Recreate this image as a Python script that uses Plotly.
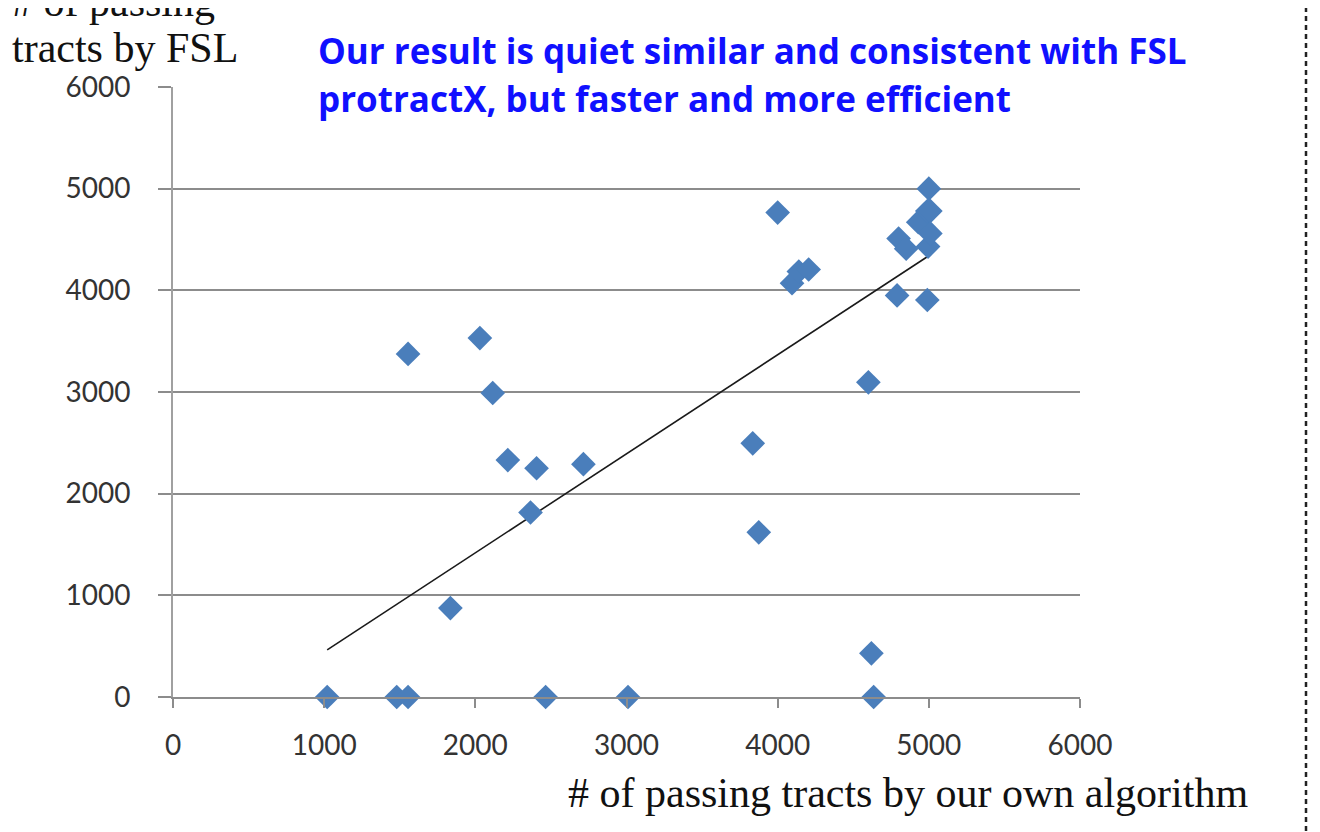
import plotly.graph_objects as go

# Data
ours = [1020, 1480, 1555, 2465, 3010, 4635, 4620, 1555, 2030, 2115, 2215, 2405,
        2365, 2715, 1835, 3835, 3875, 4000, 4095, 4140, 4205, 4600, 4790, 4990,
        5000, 4800, 4850, 4930, 4990, 5010, 4995, 5010]
fsl = [0, 0, 0, 0, 0, 0, 430, 3375, 3530, 2990, 2330, 2250,
       1815, 2290, 875, 2495, 1620, 4765, 4070, 4185, 4205, 3095, 3950, 3905,
       5000, 4510, 4410, 4670, 4780, 4780, 4430, 4560]
x_ticks = [0, 1000, 2000, 3000, 4000, 5000, 6000]
y_ticks = [0, 1000, 2000, 3000, 4000, 5000, 6000]
# trendline as drawn in the reference (linear: fsl = slope * ours + intercept)
trend_slope = 0.974
trend_intercept = -530

tx = [min(ours), max(ours)]
ty = [trend_slope * v + trend_intercept for v in tx]

OFF = 8  # page body margin
L, R, T, B = 173 - OFF, 1080 - OFF, 87 - OFF, 697 - OFF
W, H = R - L, B - T

def px(x):
    return (x - OFF - L) / W

def py(y):
    return (B - (y - OFF)) / H

fig = go.Figure()
fig.add_trace(go.Scatter(x=tx, y=ty, mode="lines",
                         line=dict(color="#1a1a1a", width=1.6), showlegend=False,
                         hoverinfo="skip"))
fig.add_trace(go.Scatter(x=ours, y=fsl, mode="markers", cliponaxis=False,
                         marker=dict(symbol="diamond", size=19, color="#4a7ebb",
                                     line=dict(width=0)),
                         showlegend=False))

fig.update_xaxes(range=[0, 6000], tickvals=x_ticks, ticktext=[str(v) for v in x_ticks],
                 showgrid=False, zeroline=False, showline=True, linecolor="#8c8c8c",
                 linewidth=2, ticks="outside", ticklen=9, tickwidth=2, tickcolor="#8c8c8c",
                 tickfont=dict(family="Lato", size=28, color="#333333"),
                 ticklabelstandoff=13)
fig.update_yaxes(range=[0, 6000], tickvals=y_ticks, ticktext=[str(v) for v in y_ticks],
                 showgrid=True, gridcolor="#8c8c8c", gridwidth=2, zeroline=False,
                 showline=True, linecolor="#a0a0a0", linewidth=2, ticks="outside",
                 ticklen=13, tickwidth=2, tickcolor="#8c8c8c",
                 tickfont=dict(family="Lato", size=28, color="#333333"),
                 ticklabelstandoff=22)

serif = dict(family="Liberation Serif", size=42, color="#111111")
blue = dict(family="Open Sans", size=35, color="#1010ff", weight="bold")
ann = [
    dict(text="# of passing", x=px(10), y=py(2), xanchor="left", yanchor="middle", font=serif),
    dict(text="tracts by FSL", x=px(10), y=py(48), xanchor="left", yanchor="middle", font=serif),
    dict(text="Our result is quiet similar and consistent with FSL", x=px(316), y=py(50),
         xanchor="left", yanchor="middle", font=blue),
    dict(text="protractX, but faster and more efficient", x=px(316), y=py(99),
         xanchor="left", yanchor="middle", font=blue),
    dict(text="# of passing tracts by our own algorithm", x=px(1250), y=py(793),
         xanchor="right", yanchor="middle", font=serif),
]
for a in ann:
    fig.add_annotation(xref="paper", yref="paper", showarrow=False, **a)

fig.add_shape(type="line", xref="paper", yref="paper", x0=px(1306), x1=px(1306),
              y0=py(840), y1=py(-5), line=dict(color="#222222", width=2.5, dash="5px,4px"))

fig.update_layout(width=1320, height=832, margin=dict(l=L, r=1320 - R, t=T, b=832 - B),
                  paper_bgcolor="white", plot_bgcolor="white")
fig.write_html("out.html")
